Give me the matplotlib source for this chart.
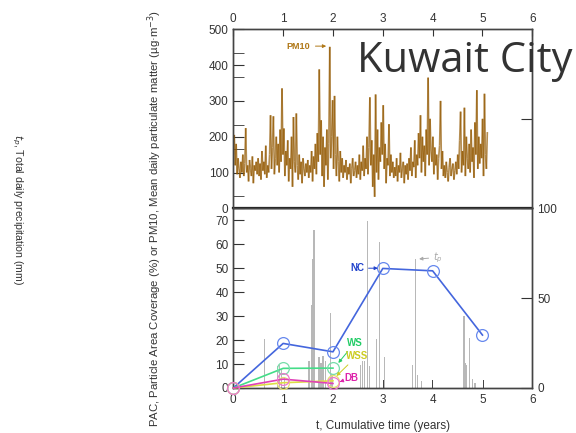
import matplotlib
matplotlib.use("Agg")
import matplotlib.pyplot as plt
import numpy as np
from matplotlib.collections import LineCollection

plt.rcParams["font.family"] = ["Liberation Sans", "DejaVu Sans"]

# PM10 weekly values (ug/m3)
pm10 = [
    150, 205, 120, 180, 95, 140, 110, 85, 130, 100, 150, 90, 125,
    224, 100, 120, 75, 135, 110, 90, 145, 70, 120, 105, 130, 95,
    140, 90, 125, 80, 160, 105, 130, 95, 175, 85, 120, 100, 150,
    260, 110, 170, 257, 95, 140, 200, 120, 180, 100, 220, 130, 335,
    150, 223, 90, 160, 120, 190, 75, 140, 110, 200, 60, 255, 130,
    100, 265, 120, 80, 150, 95, 130, 70, 140, 110, 90, 125, 100,
    135, 85, 120, 100, 160, 75, 145, 110, 180, 95, 210, 130, 388,
    150, 246, 90, 200, 60, 170, 120, 220, 80, 180, 451, 140, 200,
    302, 110, 314, 150, 90, 200, 130, 75, 160, 100, 140, 85, 120,
    100, 135, 80, 115, 95, 125, 70, 110, 140, 90, 105, 130, 85,
    120, 95, 150, 80, 130, 105, 175, 90, 140, 110, 200, 95, 170,
    310, 120, 190, 60, 150, 32, 318, 100, 220, 80, 170, 130, 240,
    150, 288, 110, 180, 70, 140, 120, 235, 90, 150, 100, 130, 85,
    115, 90, 140, 75, 120, 100, 155, 85, 110, 130, 70, 120, 95,
    125, 80, 140, 105, 170, 90, 130, 115, 190, 85, 150, 120, 210,
    140, 260, 100, 200, 130, 175, 90, 220, 150, 365, 120, 250, 160,
    130, 200, 95, 170, 120, 150, 80, 140, 175, 300, 110, 160, 90,
    120, 85, 130, 100, 75, 115, 140, 90, 110, 125, 80, 105, 130,
    95, 150, 110, 190, 270, 100, 160, 120, 281, 90, 200, 140, 110,
    180, 100, 220, 130, 170, 85, 240, 150, 330, 110, 200, 125, 180,
    140, 250, 90, 320, 150, 110, 213,
]
pm10_weeks = np.arange(len(pm10))
pm10_years = pm10_weeks * 7 / 365.25

# daily precipitation events (years, mm)
rain_t = [0.63, 0.88, 0.93, 0.97, 1.02, 1.52, 1.58, 1.60, 1.62, 1.72, 1.76, 1.80,
          1.85, 1.95, 1.98, 2.55, 2.60, 2.64, 2.69, 2.74, 2.87, 2.94, 3.04, 3.60,
          3.65, 3.70, 3.77, 4.63, 4.65, 4.67, 4.74, 4.80, 4.85]
rain_mm = [27, 12, 13, 10, 6, 15, 46, 72, 88, 17, 14, 18,
           15, 42, 8, 13, 15, 15, 93, 12, 27, 81, 17, 13,
           72, 7, 4, 40, 14, 13, 28, 5, 3]
mark_t = [3.01, 4.0, 5.02]
mark_mm = [4.5, 4.5, 4.5]

# particle area coverage (%) per site
years = [0, 1, 2, 3, 4, 5]
nc = [0, 18.6, 15.1, 49.9, 48.9, 22.1]
ws_years = [0, 1, 2]
ws = [0, 8.2, 8.3]
wss = [0, 2.2, 3.0]
db = [0, 3.7, 1.9]

W, H = 576, 433
fig = plt.figure(figsize=(W / 100, H / 100), dpi=100)
x0, x1 = 233.3, 532.3
ax_top = fig.add_axes([x0 / W, 1 - 208.3 / H, (x1 - x0) / W, (208.3 - 29.3) / H])
ax_bot = fig.add_axes([x0 / W, 1 - 388 / H, (x1 - x0) / W, (388 - 208.3) / H])
ax_rain = ax_bot.twinx()
ax_bot.set_zorder(ax_rain.get_zorder() + 1)
ax_bot.patch.set_visible(False)

tick_col = "#333333"
spine_col = "#444444"
fs = 8.5

# ---- top panel: PM10 ----
# separate segments so overlapping strokes darken the dense core
pts = np.column_stack([pm10_years, pm10])
segs = np.stack([pts[:-1], pts[1:]], axis=1)
ax_top.add_collection(LineCollection(segs, colors="#935800", linewidths=1.2, alpha=0.68))
ax_top.set_xlim(0, 6)
ax_top.set_ylim(0, 500)
ax_top.set_yticks(range(0, 501, 100))
ax_top.set_yticks([33, 167, 233, 367, 433], minor=True)
ax_top.set_xticks(range(7))
ax_top.xaxis.tick_top()
ax_top.tick_params(axis="x", direction="in", length=5, labelsize=fs, colors=tick_col, pad=3)
ax_top.tick_params(axis="y", which="both", direction="in", length=8, labelsize=fs,
                   colors=tick_col, right=False)
ax_top.annotate("PM10", xy=(1.92, 453), xytext=(1.3, 453), color="#b07818",
                fontsize=6.5, fontweight="bold", ha="center", va="center",
                arrowprops=dict(arrowstyle="-|>", color="#b07818", lw=0.7,
                                mutation_scale=5))
ax_top_r = ax_top.twinx()
ax_top_r.set_ylim(0, 500)
ax_top_r.set_yticks([250])
ax_top_r.tick_params(axis="y", direction="in", length=8, labelright=False, colors=tick_col)

# ---- bottom panel: precipitation + PAC ----
ax_rain.bar(rain_t, rain_mm, width=0.024, color="#b8b8b8", linewidth=0)
ax_rain.bar(mark_t, mark_mm, width=0.02, color="#444444", linewidth=0)
ax_rain.set_ylim(0, 100)
ax_rain.set_yticks([0, 50, 100])
ax_rain.tick_params(axis="y", direction="in", length=8, labelsize=fs, colors=tick_col)

series = [
    (years, nc, "#4466dd", "#6688ee"),
    (ws_years, ws, "#44dd88", "#77ddaa"),
    (ws_years, wss, "#dddd44", "#e8e070"),
    (ws_years, db, "#e040b8", "#ee77cc"),
]
for xs, ys, lc, mc in series:
    ax_bot.plot(xs, ys, color=lc, lw=1.2, marker="o", ms=8.5, mfc="none",
                mec=mc, mew=0.9, clip_on=False, zorder=3)

arrow = dict(arrowstyle="-|>", lw=0.7, mutation_scale=5, shrinkA=1, shrinkB=1)
ax_bot.annotate("NC", xy=(2.93, 50), xytext=(2.49, 50), color="#2244cc", fontsize=7,
                fontweight="bold", ha="center", va="center",
                arrowprops=dict(arrow, color="#2244cc"))
ax_bot.annotate("WS", xy=(2.09, 10), xytext=(2.44, 18.9), color="#22cc66", fontsize=7,
                fontweight="bold", ha="center", va="center",
                arrowprops=dict(arrow, color="#22cc66"))
ax_bot.annotate("WSS", xy=(2.05, 4.6), xytext=(2.48, 13.3), color="#cccc22", fontsize=7,
                fontweight="bold", ha="center", va="center",
                arrowprops=dict(arrow, color="#cccc22"))
ax_bot.annotate("DB", xy=(2.11, 2.4), xytext=(2.37, 4.3), color="#dd22aa", fontsize=7,
                fontweight="bold", ha="center", va="center",
                arrowprops=dict(arrow, color="#dd22aa"))
ax_bot.annotate(r"$t_p$", xy=(3.7, 53.8), xytext=(4.1, 54.5), color="#aaaaaa", fontsize=7,
                ha="center", va="center",
                arrowprops=dict(arrow, color="#aaaaaa"))

ax_bot.set_xlim(0, 6)
ax_bot.set_ylim(0, 75)
ax_bot.set_xticks(range(7))
ax_bot.set_yticks(range(0, 71, 10))
ax_bot.set_yticks([15, 45], minor=True)
ax_bot.tick_params(axis="x", length=0, labelsize=fs, colors=tick_col, pad=4)
ax_bot.tick_params(axis="y", which="both", direction="in", length=8, labelsize=fs,
                   colors=tick_col)

for ax in (ax_top, ax_bot, ax_rain, ax_top_r):
    for s in ax.spines.values():
        s.set_color(spine_col)
        s.set_linewidth(1.0)
ax_top.spines["bottom"].set_color("#111111")
ax_top.spines["bottom"].set_linewidth(1.6)

# ---- figure texts ----
fig.text(155 / W, 1 - 218 / H,
         "PAC, Particle Area Coverage (%) or PM10, Mean daily particulate matter (µg·m$^{-3}$)",
         rotation=90, ha="center", va="center", fontsize=8.2, color=tick_col)
fig.text(17 / W, 1 - 210 / H, r"$t_p$, Total daily precipitation (mm)",
         rotation=270, ha="center", va="center", fontsize=7.6, color=tick_col)
fig.text(383 / W, 1.5 / H, "t, Cumulative time (years)", ha="center", va="bottom",
         fontsize=8.5, color=tick_col)
fig.text(357 / W, 1 - 71.7 / H, "Kuwait City", ha="left", va="baseline",
         fontsize=30, family=["Open Sans", "DejaVu Sans"], color="#333333")

fig.savefig("out.png", dpi=100)
